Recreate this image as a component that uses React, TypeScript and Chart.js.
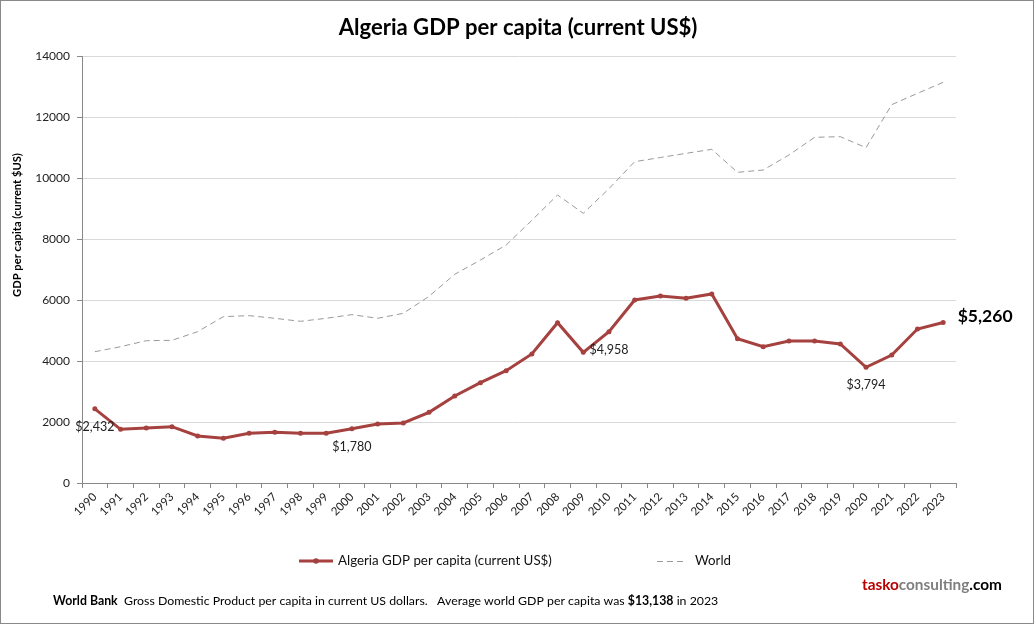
import React, { useEffect, useRef } from "react";
import { Chart, registerables } from "chart.js";

Chart.register(...registerables);

const FONT = "Lato, 'Open Sans', sans-serif";

const years = [
  "1990", "1991", "1992", "1993", "1994", "1995", "1996", "1997", "1998", "1999",
  "2000", "2001", "2002", "2003", "2004", "2005", "2006", "2007", "2008", "2009",
  "2010", "2011", "2012", "2013", "2014", "2015", "2016", "2017", "2018", "2019",
  "2020", "2021", "2022", "2023",
];

const algeria = [
  2432, 1760, 1803, 1846, 1541, 1465, 1629, 1662, 1629, 1629,
  1780, 1934, 1967, 2318, 2852, 3290, 3683, 4230, 5256, 4285,
  4958, 6000, 6131, 6055, 6197, 4732, 4470, 4656, 4656, 4557,
  3794, 4197, 5049, 5260,
];

const world = [
  4305, 4469, 4666, 4678, 4962, 5454, 5487, 5400, 5301, 5400,
  5520, 5400, 5564, 6120, 6843, 7311, 7803, 8613, 9443, 8842,
  9650, 10535, 10672, 10808, 10940, 10186, 10262, 10754, 11334, 11355,
  10994, 12405, 12775, 13138,
];

const yTicks = [0, 2000, 4000, 6000, 8000, 10000, 12000, 14000];
const annotatedYears = ["1990", "2000", "2010", "2020"];

const TITLE = "Algeria GDP per capita (current US$)";
const Y_TITLE = "GDP per capita (current $US)";
const ALGERIA_LABEL = "Algeria GDP per capita (current US$)";
const WORLD_LABEL = "World";

const RED = "#a5413f";
const GREY = "#9a9a9a";

const fmt = (v: number) => "$" + v.toLocaleString("en-US");

function fitSize(ctx: CanvasRenderingContext2D, text: string, weight: string, target: number) {
  ctx.font = `${weight} 100px ${FONT}`;
  const w = ctx.measureText(text).width;
  return (100 * target) / w;
}

const decor = {
  id: "decor",
  beforeDraw(chart: any) {
    const ctx: CanvasRenderingContext2D = chart.ctx;
    ctx.save();
    ctx.fillStyle = "#ffffff";
    ctx.fillRect(0, 0, chart.width, chart.height);
    ctx.restore();
  },
  afterDraw(chart: any) {
    const ctx: CanvasRenderingContext2D = chart.ctx;
    const xs = chart.scales.x;
    const ys = chart.scales.y;
    ctx.save();

    // outer border
    ctx.strokeStyle = "#8a8a8a";
    ctx.lineWidth = 1;
    ctx.strokeRect(0.5, 0.5, chart.width - 1, chart.height - 1);

    // title
    let s = fitSize(ctx, TITLE, "bold", 359);
    ctx.font = `bold ${s}px ${FONT}`;
    ctx.fillStyle = "#000";
    ctx.textAlign = "center";
    ctx.textBaseline = "middle";
    ctx.fillText(TITLE, 518, 28);

    // y axis title
    s = fitSize(ctx, Y_TITLE, "bold", 144);
    ctx.save();
    ctx.translate(17, 225);
    ctx.rotate(-Math.PI / 2);
    ctx.font = `bold ${s}px ${FONT}`;
    ctx.fillText(Y_TITLE, 0, 0);
    ctx.restore();

    // annotations
    ctx.font = `12.5px ${FONT}`;
    ctx.fillStyle = "#222";
    ctx.textAlign = "center";
    annotatedYears.forEach((yr) => {
      const i = years.indexOf(yr);
      const px = xs.getPixelForValue(i);
      const py = ys.getPixelForValue(algeria[i]);
      ctx.fillText(fmt(algeria[i]), px, py + 18);
    });
    const li = years.length - 1;
    s = fitSize(ctx, fmt(algeria[li]), "bold", 55);
    ctx.font = `bold ${s}px ${FONT}`;
    ctx.fillStyle = "#000";
    ctx.fillText(fmt(algeria[li]), xs.getPixelForValue(li) + 42, ys.getPixelForValue(algeria[li]) - 6);

    // legend
    const ly = 561;
    ctx.strokeStyle = RED;
    ctx.lineWidth = 3;
    ctx.beginPath();
    ctx.moveTo(299, ly);
    ctx.lineTo(333, ly);
    ctx.stroke();
    ctx.fillStyle = RED;
    ctx.beginPath();
    ctx.arc(316, ly, 2.8, 0, Math.PI * 2);
    ctx.fill();
    s = fitSize(ctx, ALGERIA_LABEL, "normal", 214);
    ctx.font = `${s}px ${FONT}`;
    ctx.fillStyle = "#111";
    ctx.textAlign = "left";
    ctx.fillText(ALGERIA_LABEL, 338, ly);

    ctx.strokeStyle = GREY;
    ctx.lineWidth = 1;
    ctx.setLineDash([6, 4]);
    ctx.beginPath();
    ctx.moveTo(657, ly + 0.5);
    ctx.lineTo(687, ly + 0.5);
    ctx.stroke();
    ctx.setLineDash([]);
    ctx.fillStyle = "#111";
    ctx.fillText(WORLD_LABEL, 695, ly);

    // brand
    const brand = [
      { t: "tasko", c: "#b80000" },
      { t: "consulting", c: "#7f7f7f" },
      { t: ".com", c: "#000000" },
    ];
    const brandFull = brand.map((b) => b.t).join("");
    s = fitSize(ctx, brandFull, "bold", 140);
    ctx.font = `bold ${s}px ${FONT}`;
    let bx = 862;
    brand.forEach((b) => {
      ctx.fillStyle = b.c;
      ctx.fillText(b.t, bx, 585);
      bx += ctx.measureText(b.t).width;
    });

    // footer
    const foot = [
      { t: "World Bank", b: true },
      { t: "  Gross Domestic Product per capita in current US dollars.   Average world GDP per capita was ", b: false },
      { t: fmt(world[world.length - 1]), b: true },
      { t: " in " + years[years.length - 1], b: false },
    ];
    let total = 0;
    foot.forEach((f) => {
      ctx.font = `${f.b ? "bold" : "normal"} 100px ${FONT}`;
      total += ctx.measureText(f.t).width;
    });
    const fs = (100 * 666) / total;
    let fx = 53;
    ctx.fillStyle = "#000";
    foot.forEach((f) => {
      ctx.font = `${f.b ? "bold" : "normal"} ${fs}px ${FONT}`;
      ctx.fillText(f.t, fx, 601);
      fx += ctx.measureText(f.t).width;
    });

    ctx.restore();
  },
};

export default function App() {
  const ref = useRef<HTMLCanvasElement | null>(null);

  useEffect(() => {
    document.body.style.margin = "0";
    const canvas = ref.current;
    if (!canvas) return;
    const chart = new Chart(canvas, {
      type: "line",
      data: {
        labels: years,
        datasets: [
          {
            label: ALGERIA_LABEL,
            data: algeria,
            borderColor: RED,
            backgroundColor: RED,
            borderWidth: 3,
            pointRadius: 2.5,
            pointBorderWidth: 0,
            pointBackgroundColor: RED,
            tension: 0,
          },
          {
            label: WORLD_LABEL,
            data: world,
            borderColor: GREY,
            borderWidth: 1,
            borderDash: [6, 4],
            pointRadius: 0,
            tension: 0,
          },
        ],
      },
      options: {
        animation: false,
        responsive: false,
        maintainAspectRatio: false,
        layout: { padding: { top: 56, right: 78, bottom: 100, left: 0 } },
        plugins: {
          legend: { display: false },
          title: { display: false },
          tooltip: { enabled: false },
        },
        scales: {
          x: {
            type: "category",
            offset: true,
            grid: {
              display: true,
              drawOnChartArea: false,
              drawTicks: true,
              tickLength: 5,
              offset: true,
              color: "#888",
              tickColor: "#888",
            },
            border: { color: "#888" },
            ticks: {
              autoSkip: false,
              minRotation: 45,
              maxRotation: 45,
              padding: 2,
              color: "#222",
              font: { family: FONT, size: 11.5 },
            },
            afterFit: (s: any) => {
              s.height = 41;
            },
          },
          y: {
            min: 0,
            max: 14000,
            afterBuildTicks: (s: any) => {
              s.ticks = yTicks.map((v) => ({ value: v }));
            },
            ticks: {
              padding: 7,
              color: "#222",
              font: { family: FONT, size: 12 },
              callback: (v: any) => String(v),
            },
            grid: { color: "#d9d9d9", tickColor: "#888", tickLength: 5 },
            border: { color: "#888" },
            afterFit: (s: any) => {
              s.width = 82;
            },
          },
        },
      },
      plugins: [decor],
    } as any);
    return () => chart.destroy();
  }, []);

  return <canvas ref={ref} width={1034} height={624} style={{ display: "block" }} />;
}
